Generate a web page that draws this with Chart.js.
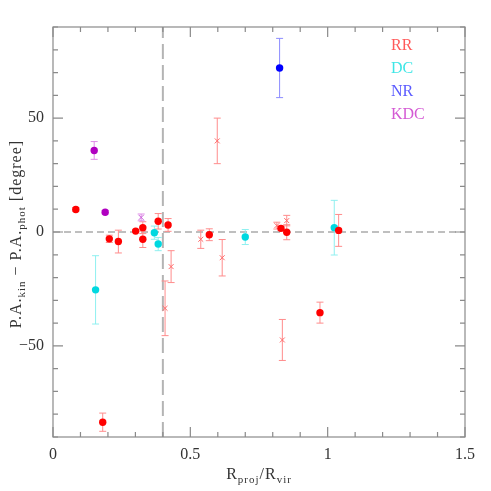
<!DOCTYPE html>
<html>
<head>
<meta charset="utf-8">
<script src="https://cdn.jsdelivr.net/npm/chart.js@4.4.1/dist/chart.umd.min.js"></script>
<style>
  html, body { margin: 0; padding: 0; background: #fff; }
  #chart { display: block; }
</style>
</head>
<body>
<canvas id="chart" width="491" height="491"></canvas>
<script>
// RR, filled circles
const rrX = [0.083, 0.181, 0.205, 0.238, 0.301, 0.327, 0.327, 0.383, 0.419, 0.569, 0.830, 0.851, 0.972, 1.040];
const rrY = [9.9, -83.5, -3.0, -4.2, 0.4, 1.9, -3.2, 4.7, 3.1, -1.2, 1.6, -0.1, -35.4, 0.7];
const rrErr = [0.8, 4.0, 1.6, 5.0, 0.5, 2.6, 3.6, 3.4, 2.8, 2.6, 1.0, 3.3, 4.6, 7.0];

// RR, crosses
const rrxX = [0.408, 0.430, 0.538, 0.598, 0.616, 0.815, 0.835, 0.851];
const rrxY = [-33.5, -15.2, -3.2, 40.0, -11.3, 2.8, -47.4, 5.0];
const rrxErr = [12.0, 7.0, 4.0, 10.0, 8.0, 1.5, 9.0, 2.3];

// DC
const dcX = [0.155, 0.369, 0.383, 0.700, 1.024];
const dcY = [-25.4, -0.3, -5.3, -2.2, 1.9];
const dcErr = [15.0, 2.9, 2.9, 3.3, 12.0];

// NR
const nrX = [0.825];
const nrY = [72.0];
const nrErr = [13.0];

// KDC, circles and one cross
const kdcX = [0.150, 0.190];
const kdcY = [35.8, 8.7];
const kdcErr = [3.9, 0.8];
const kdcxX = [0.321];
const kdcxY = [6.4];
const kdcxErr = [1.5];

const xTicks = [0, 0.5, 1, 1.5];
const yTicks = [-50, 0, 50];
const legendNames = ["RR", "DC", "NR", "KDC"];
const legendColors = ["#ff5a5a", "#3ee6e6", "#5a5aff", "#d45ad4"];

const serif = "'Liberation Serif', 'DejaVu Serif', serif";

function points(xs, ys, errs) {
  return xs.map((x, i) => ({ x: x, y: ys[i], err: errs[i] }));
}

// dashed reference lines, under everything
const refLines = {
  id: 'refLines',
  beforeDatasetsDraw(chart) {
    const { ctx, chartArea: a, scales: { x, y } } = chart;
    ctx.save();
    ctx.strokeStyle = '#aaaaaa';
    ctx.lineWidth = 1.5;
    ctx.setLineDash([7, 4]);
    const y0 = y.getPixelForValue(0);
    ctx.beginPath();
    ctx.moveTo(a.left, y0);
    ctx.lineTo(a.right, y0);
    ctx.stroke();
    ctx.strokeStyle = '#b4b4b4';
    ctx.lineWidth = 2;
    ctx.setLineDash([15, 6]);
    const x0 = x.getPixelForValue(0.4);
    ctx.beginPath();
    ctx.moveTo(x0, a.bottom);
    ctx.lineTo(x0, a.top);
    ctx.stroke();
    ctx.restore();
  }
};

// vertical error bars with caps
const errorBars = {
  id: 'errorBars',
  beforeDatasetsDraw(chart) {
    const { ctx, scales: { x, y } } = chart;
    ctx.save();
    ctx.lineWidth = 1;
    chart.data.datasets.forEach(ds => {
      ctx.strokeStyle = ds.errColor;
      ds.data.forEach(d => {
        const px = x.getPixelForValue(d.x);
        const top = y.getPixelForValue(d.y + d.err);
        const bot = y.getPixelForValue(d.y - d.err);
        ctx.beginPath();
        ctx.moveTo(px, top);
        ctx.lineTo(px, bot);
        ctx.moveTo(px - 3.5, top);
        ctx.lineTo(px + 3.5, top);
        ctx.moveTo(px - 3.5, bot);
        ctx.lineTo(px + 3.5, bot);
        ctx.stroke();
      });
    });
    ctx.restore();
  }
};

function drawParts(ctx, parts, big, small, drop) {
  let total = 0;
  parts.forEach(p => {
    ctx.font = (p[1] ? small : big) + 'px ' + serif;
    total += ctx.measureText(p[0]).width;
  });
  let cx = -total / 2;
  parts.forEach(p => {
    ctx.font = (p[1] ? small : big) + 'px ' + serif;
    ctx.fillText(p[0], cx, p[1] ? drop : 0);
    cx += ctx.measureText(p[0]).width;
  });
}

// frame, inward ticks, axis titles and coloured legend
const frame = {
  id: 'frame',
  afterDraw(chart) {
    const { ctx, chartArea: a, scales: { x, y } } = chart;
    ctx.save();
    ctx.strokeStyle = '#8a8a8a';
    ctx.lineWidth = 1.2;
    ctx.strokeRect(a.left, a.top, a.right - a.left, a.bottom - a.top);
    ctx.beginPath();
    for (let i = 0; i <= 15; i++) {
      const px = x.getPixelForValue(i / 10);
      const len = i % 5 === 0 ? 10 : 5;
      ctx.moveTo(px, a.bottom); ctx.lineTo(px, a.bottom - len);
      ctx.moveTo(px, a.top); ctx.lineTo(px, a.top + len);
    }
    for (let v = -90; v <= 90; v += 10) {
      const py = y.getPixelForValue(v);
      const len = v % 50 === 0 ? 10 : 5;
      ctx.moveTo(a.left, py); ctx.lineTo(a.left + len, py);
      ctx.moveTo(a.right, py); ctx.lineTo(a.right - len, py);
    }
    ctx.stroke();

    ctx.fillStyle = '#333';
    ctx.textBaseline = 'alphabetic';
    ctx.textAlign = 'left';
    ctx.letterSpacing = '1px';
    ctx.save();
    ctx.translate((a.left + a.right) / 2, 479);
    drawParts(ctx, [["R", 0], ["proj", 1], ["/R", 0], ["vir", 1]], 16, 11, 4);
    ctx.restore();

    ctx.save();
    ctx.translate(21, 234);
    ctx.rotate(-Math.PI / 2);
    drawParts(ctx, [["P.A.", 0], ["kin", 1], [" \u2212 P.A.", 0], ["phot", 1], [" [degree]", 0]], 16, 11, 4);
    ctx.restore();

    ctx.letterSpacing = '0px';
    ctx.font = '16px ' + serif;
    legendNames.forEach((name, i) => {
      ctx.fillStyle = legendColors[i];
      ctx.fillText(name, 391, 50 + i * 23);
    });
    ctx.restore();
  }
};

const tickFont = { family: serif, size: 16 };

new Chart(document.getElementById('chart'), {
  type: 'scatter',
  data: {
    datasets: [
      { label: 'RR', data: points(rrX, rrY, rrErr), pointStyle: 'circle', pointRadius: 3.7,
        backgroundColor: '#ff0000', borderWidth: 0, errColor: '#ff8c8c' },
      { label: 'RR x', data: points(rrxX, rrxY, rrxErr), pointStyle: 'crossRot', pointRadius: 3.5,
        borderColor: '#ff6a6a', borderWidth: 1, errColor: '#ff8c8c' },
      { label: 'DC', data: points(dcX, dcY, dcErr), pointStyle: 'circle', pointRadius: 3.7,
        backgroundColor: '#00d8e0', borderWidth: 0, errColor: '#8ff0f0' },
      { label: 'NR', data: points(nrX, nrY, nrErr), pointStyle: 'circle', pointRadius: 3.7,
        backgroundColor: '#0000ff', borderWidth: 0, errColor: '#8c8cff' },
      { label: 'KDC', data: points(kdcX, kdcY, kdcErr), pointStyle: 'circle', pointRadius: 3.7,
        backgroundColor: '#b000c0', borderWidth: 0, errColor: '#e08ce8' },
      { label: 'KDC x', data: points(kdcxX, kdcxY, kdcxErr), pointStyle: 'crossRot', pointRadius: 3.5,
        borderColor: '#c860d8', borderWidth: 1, errColor: '#e08ce8' }
    ]
  },
  options: {
    responsive: false,
    animation: false,
    events: [],
    layout: { padding: { top: 27, right: 26, left: 0, bottom: 0 } },
    plugins: { legend: { display: false }, tooltip: { enabled: false } },
    scales: {
      x: {
        type: 'linear', min: 0, max: 1.5,
        grid: { display: false, drawTicks: false },
        border: { display: false },
        afterBuildTicks: s => { s.ticks = xTicks.map(v => ({ value: v })); },
        afterFit: s => { s.height = 54; },
        ticks: { padding: 8, color: '#333', font: tickFont, maxRotation: 0,
          callback: v => String(v) }
      },
      y: {
        type: 'linear', min: -90, max: 90,
        grid: { display: false, drawTicks: false },
        border: { display: false },
        afterBuildTicks: s => { s.ticks = yTicks.map(v => ({ value: v })); },
        afterFit: s => { s.width = 53; },
        ticks: { padding: 9, color: '#333', font: tickFont,
          callback: v => v < 0 ? '\u2212' + Math.abs(v) : String(v) }
      }
    }
  },
  plugins: [refLines, errorBars, frame]
});
</script>
</body>
</html>
